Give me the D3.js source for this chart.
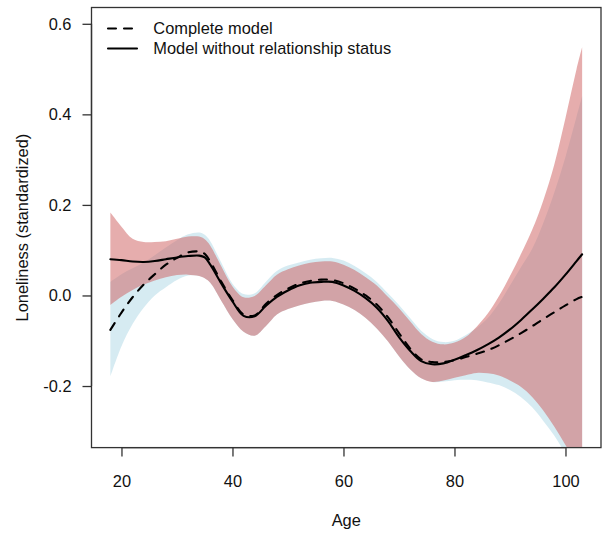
<!DOCTYPE html>
<html>
<head>
<meta charset="utf-8">
<script src="https://cdn.jsdelivr.net/npm/d3@7"></script>
<style>
  html, body { margin: 0; padding: 0; background: #fff; }
  svg { display: block; font-family: "Liberation Sans", Arial, sans-serif; }
</style>
</head>
<body>
<svg id="chart" width="607" height="534"></svg>
<script>
// ---- data ----
const ages = [18,20,22,24,26,28,30,32,34,35,36,38,40,42,44,46,48,50,52,54,56,58,60,62,64,66,68,70,72,74,76,78,80,82,84,86,88,90,92,94,96,98,100,102,103];

// Model without relationship status (solid line, red band)
const noRelFit = [0.080,0.078,0.075,0.074,0.076,0.080,0.084,0.087,0.088,0.084,0.068,0.026,-0.013,-0.045,-0.046,-0.023,-0.003,0.011,0.022,0.028,0.030,0.030,0.022,0.010,-0.006,-0.027,-0.056,-0.092,-0.122,-0.145,-0.152,-0.150,-0.142,-0.132,-0.121,-0.108,-0.093,-0.075,-0.054,-0.031,-0.007,0.018,0.046,0.076,0.091];
const noRelUpper = [0.183,0.152,0.125,0.118,0.118,0.120,0.125,0.130,0.130,0.124,0.110,0.064,0.020,-0.004,-0.001,0.022,0.046,0.058,0.066,0.072,0.075,0.075,0.068,0.056,0.040,0.022,-0.003,-0.028,-0.057,-0.085,-0.102,-0.108,-0.104,-0.092,-0.069,-0.040,-0.002,0.043,0.092,0.145,0.210,0.290,0.392,0.500,0.548];
const noRelLower = [-0.021,-0.003,0.012,0.024,0.033,0.040,0.045,0.046,0.043,0.038,0.028,-0.012,-0.052,-0.080,-0.089,-0.068,-0.042,-0.030,-0.022,-0.016,-0.012,-0.012,-0.020,-0.032,-0.050,-0.073,-0.101,-0.134,-0.163,-0.183,-0.191,-0.188,-0.182,-0.176,-0.171,-0.172,-0.177,-0.188,-0.202,-0.224,-0.254,-0.290,-0.330,-0.373,-0.395];

// Complete model (dashed line, blue band)
const completeFit = [-0.076,-0.038,-0.004,0.024,0.047,0.068,0.083,0.095,0.097,0.092,0.075,0.030,-0.010,-0.042,-0.044,-0.019,0.001,0.015,0.026,0.032,0.035,0.034,0.027,0.015,0.000,-0.020,-0.048,-0.083,-0.117,-0.141,-0.147,-0.147,-0.143,-0.136,-0.129,-0.121,-0.110,-0.097,-0.083,-0.068,-0.052,-0.037,-0.022,-0.008,-0.003];
const completeUpper = [0.030,0.047,0.060,0.073,0.089,0.106,0.122,0.135,0.139,0.134,0.120,0.072,0.026,0.003,0.005,0.030,0.054,0.066,0.073,0.079,0.082,0.083,0.077,0.065,0.049,0.030,0.005,-0.021,-0.050,-0.078,-0.096,-0.103,-0.100,-0.088,-0.072,-0.050,-0.018,0.022,0.063,0.103,0.160,0.228,0.306,0.395,0.440];
const completeLower = [-0.179,-0.112,-0.063,-0.027,0.000,0.018,0.034,0.044,0.043,0.038,0.028,-0.012,-0.052,-0.080,-0.089,-0.068,-0.042,-0.030,-0.022,-0.016,-0.012,-0.012,-0.020,-0.032,-0.050,-0.073,-0.101,-0.134,-0.163,-0.183,-0.191,-0.190,-0.187,-0.186,-0.187,-0.192,-0.198,-0.209,-0.225,-0.247,-0.277,-0.310,-0.350,-0.395,-0.420];

const xTicks = [20, 40, 60, 80, 100];
const yTicks = [-0.2, 0.0, 0.2, 0.4, 0.6];
const yTickLabels = ["-0.2", "0.0", "0.2", "0.4", "0.6"];
const legendLabels = ["Complete model", "Model without relationship status"];
const xTitle = "Age";
const yTitle = "Loneliness (standardized)";

// ---- layout ----
const plot = { left: 91.5, right: 601, top: 7.5, bottom: 447.6 };
const FS = 16.4;

const svg = d3.select("#chart");
const x = d3.scaleLinear().domain([14.6, 106.4]).range([plot.left, plot.right]);
const y = d3.scaleLinear().domain([-0.336, 0.636]).range([plot.bottom, plot.top]);

svg.append("defs").append("clipPath").attr("id", "clip")
  .append("rect")
  .attr("x", plot.left).attr("y", plot.top)
  .attr("width", plot.right - plot.left).attr("height", plot.bottom - plot.top);

const g = svg.append("g").attr("clip-path", "url(#clip)");

const curve = d3.curveCatmullRom.alpha(0.5);
function band(lo, hi) {
  return d3.area().curve(curve)
    .x((d, i) => x(ages[i]))
    .y0((d, i) => y(lo[i]))
    .y1((d, i) => y(hi[i]))(ages);
}
function line(vals) {
  return d3.line().curve(curve)
    .x((d, i) => x(ages[i]))
    .y((d, i) => y(vals[i]))(ages);
}

// blue band (complete model), then red band (without relationship status)
g.append("path").attr("d", band(completeLower, completeUpper))
  .attr("fill", "#add8e6").attr("fill-opacity", 0.5);
g.append("path").attr("d", band(noRelLower, noRelUpper))
  .attr("fill", "#cd5c5c").attr("fill-opacity", 0.5);

g.append("path").attr("d", line(completeFit))
  .attr("fill", "none").attr("stroke", "#000").attr("stroke-width", 2.1)
  .attr("stroke-dasharray", "8,8").attr("stroke-linecap", "round");
g.append("path").attr("d", line(noRelFit))
  .attr("fill", "none").attr("stroke", "#000").attr("stroke-width", 2.1)
  .attr("stroke-linecap", "round");

// ---- box ----
svg.append("rect")
  .attr("x", plot.left).attr("y", plot.top)
  .attr("width", plot.right - plot.left).attr("height", plot.bottom - plot.top)
  .attr("fill", "none").attr("stroke", "#333").attr("stroke-width", 1.3);

// ---- axes ----
const xAxis = d3.axisBottom(x).tickValues(xTicks).tickSize(9).tickPadding(19).tickFormat(d3.format("d"));
const xg = svg.append("g").attr("transform", `translate(0,${plot.bottom})`).call(xAxis);
const yAxis = d3.axisLeft(y).tickValues(yTicks).tickSize(9).tickPadding(11)
  .tickFormat((d, i) => yTickLabels[i]);
const yg = svg.append("g").attr("transform", `translate(${plot.left},0)`).call(yAxis);

[xg, yg].forEach(a => {
  a.select(".domain").attr("stroke", "#333").attr("stroke-width", 1.3);
  a.selectAll(".tick line").attr("stroke", "#333").attr("stroke-width", 1.3);
  a.selectAll(".tick text").attr("fill", "#111").style("font-size", FS + "px")
    .style("font-family", '"Liberation Sans", Arial, sans-serif');
});
// axis lines only from first to last tick (R style)
xg.select(".domain").attr("d", `M${x(xTicks[0])},0V0H${x(xTicks[xTicks.length-1])}V0`);
yg.select(".domain").attr("d", `M0,${y(yTicks[0])}H0V${y(yTicks[yTicks.length-1])}H0`);

// ---- titles ----
svg.append("text").attr("x", (plot.left + plot.right) / 2).attr("y", 526)
  .attr("text-anchor", "middle").attr("fill", "#111").style("font-size", FS + "px")
  .text(xTitle);
svg.append("text")
  .attr("transform", `translate(28,${(plot.top + plot.bottom) / 2}) rotate(-90)`)
  .attr("text-anchor", "middle").attr("fill", "#111").style("font-size", FS + "px")
  .text(yTitle);

// ---- legend ----
const legY = [28.5, 48.5];
const leg = svg.append("g");
legendLabels.forEach((lab, i) => {
  leg.append("line").attr("x1", 108).attr("x2", 137).attr("y1", legY[i]).attr("y2", legY[i])
    .attr("stroke", "#000").attr("stroke-width", 2.1).attr("stroke-linecap", "round")
    .attr("stroke-dasharray", i === 0 ? "8,8" : null);
  leg.append("text").attr("x", 153.3).attr("y", legY[i] + 5.9)
    .attr("fill", "#111").style("font-size", FS + "px").text(lab);
});
</script>
</body>
</html>
